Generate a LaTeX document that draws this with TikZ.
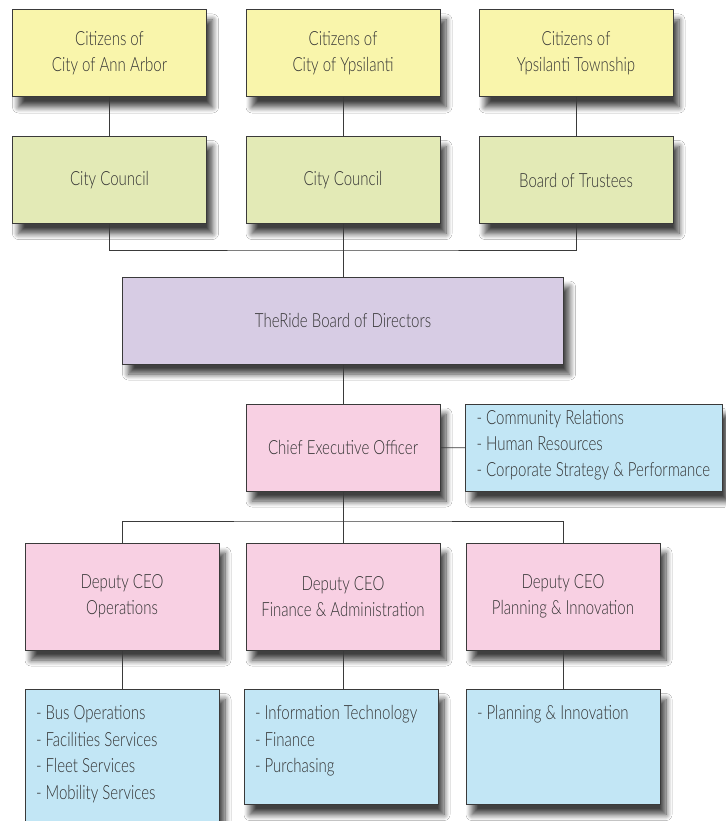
\documentclass[tikz,border=0pt]{standalone}
\usepackage{fontspec}
\setmainfont{Lato}[UprightFont=* Light, FakeStretch=0.77]
\usetikzlibrary{shadows.blur}
\definecolor{cyellow}{HTML}{F9F5AB}
\definecolor{cgreen}{HTML}{E3EAB6}
\definecolor{cpurple}{HTML}{D7CCE4}
\definecolor{cpink}{HTML}{F8D0E3}
\definecolor{cblue}{HTML}{C2E6F5}
\definecolor{cline}{HTML}{3A3A3A}
\definecolor{ctext}{HTML}{333333}
\newcommand\itemlist[4]{\parbox[c][#1][t]{#2}{\raggedright\leftskip=#3\relax\vspace*{16pt}#4\par}}
\newcommand\sidelist[4]{\parbox[c][#1][t]{#2}{\raggedright\leftskip=#3\relax\vspace*{6pt}#4\par}}
\begin{document}
\begin{tikzpicture}[x=1pt,y=-1pt,
  box/.style={draw=cline, line width=1pt, inner sep=0pt, align=center,
    font=\fontsize{19.5}{26}\selectfont, text=ctext,
    blur shadow={shadow xshift=6pt, shadow yshift=-10pt, shadow blur radius=6pt, shadow blur steps=10, shadow opacity=75}},
  topbox/.style={box, minimum width=194pt, minimum height=87pt},
  listbox/.style={box, align=left, font=\fontsize{19.5}{26.5}\selectfont},
  conn/.style={draw=cline, line width=0.9pt}]
\useasboundingbox[fill=white] (0,0) rectangle (725,821);

% row 1
\node[topbox, fill=cyellow] (c1) at (109.5,53.5) {Citizens of\\City of Ann Arbor};
\node[topbox, fill=cyellow] (c2) at (343,53.5) {Citizens of\\City of Ypsilanti};
\node[topbox, fill=cyellow] (c3) at (576,53.5) {Citizens of\\Ypsilanti Township};
% row 2
\node[topbox, fill=cgreen] (g1) at (109.5,180) {City Council};
\node[topbox, fill=cgreen] (g2) at (343,180) {City Council};
\node[topbox, fill=cgreen] (g3) at (576,180) {Board of Trustees};
% board
\node[box, fill=cpurple, minimum width=441pt, minimum height=87pt] (board) at (343,320.5) {TheRide Board of Directors};
% ceo
\node[topbox, fill=cpink] (ceo) at (343,447.5) {Chief Executive Officer};
\node[box, fill=cblue, anchor=north west] (side) at (465,404)
  {\sidelist{87pt}{257pt}{11pt}{- Community Relations\\- Human Resources\\- Corporate Strategy \& Performance}};
% deputies
\node[box, fill=cpink, minimum width=194pt, minimum height=107pt] (d1) at (122,596.5) {Deputy CEO\\Operations};
\node[box, fill=cpink, minimum width=194pt, minimum height=107pt] (d2) at (343,596.5) {Deputy CEO\\Finance \& Administration};
\node[box, fill=cpink, minimum width=194pt, minimum height=107pt] (d3) at (563,596.5) {Deputy CEO\\Planning \& Innovation};
% lists
\node[listbox, fill=cblue, anchor=north] (l1) at (122,689)
  {\itemlist{150pt}{194pt}{11pt}{- Bus Operations\\- Facilities Services\\- Fleet Services\\- Mobility Services}};
\node[listbox, fill=cblue, anchor=north] (l2) at (341,689)
  {\itemlist{115pt}{194pt}{11pt}{- Information Technology\\- Finance\\- Purchasing}};
\node[listbox, fill=cblue, anchor=north] (l3) at (563,689)
  {\itemlist{115pt}{194pt}{11pt}{- Planning \& Innovation}};

% connectors
\coordinate (j) at (343,250);
\coordinate (bus) at (343,521);
\draw[conn] (c1) -- (g1);
\draw[conn] (c2) -- (g2);
\draw[conn] (c3) -- (g3);
\draw[conn] (g1.south) |- (j) -| (g3.south);
\draw[conn] (g2) -- (board);
\draw[conn] (board) -- (ceo);
\draw[conn] (ceo) -- (side);
\draw[conn] (ceo) -- (d2);
\draw[conn] (d1.north) |- (bus) -| (d3.north);
\draw[conn] (d1) -- (l1);
\draw[conn] (d2.south) -- (d2.south |- l2.north);
\draw[conn] (d3) -- (l3);
\end{tikzpicture}
\end{document}
